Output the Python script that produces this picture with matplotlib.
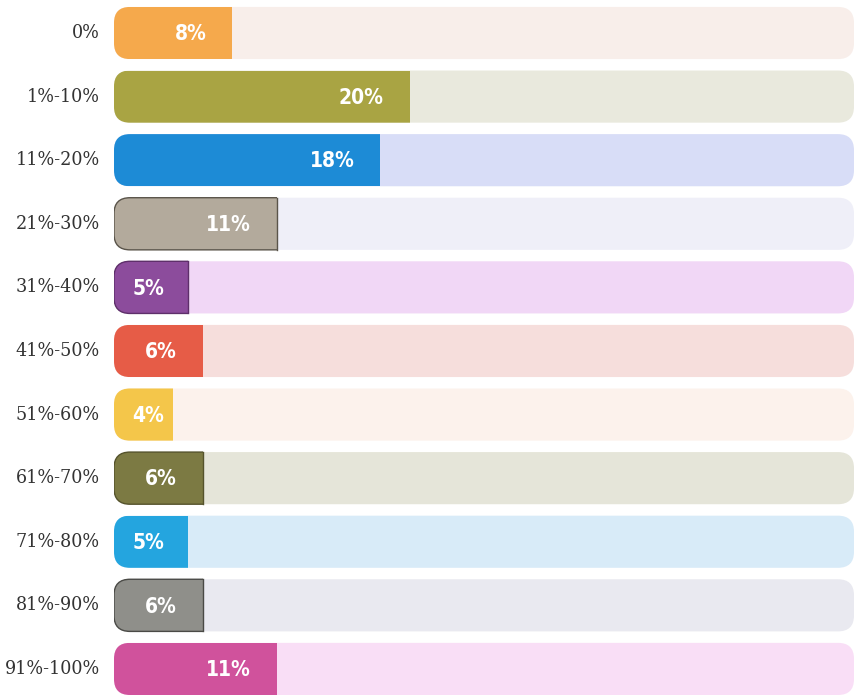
import numpy as np
import matplotlib.pyplot as plt
from matplotlib.patches import FancyBboxPatch, Rectangle

# Datos
categorias = ['0%', '1%-10%', '11%-20%', '21%-30%', '31%-40%', '41%-50%',
              '51%-60%', '61%-70%', '71%-80%', '81%-90%', '91%-100%']
valores = [8, 20, 18, 11, 5, 6, 4, 6, 5, 6, 11]
etiquetas = ['8%', '20%', '18%', '11%', '5%', '6%', '4%', '6%', '5%', '6%', '11%']

colores = ['#F5A94C', '#A9A443', '#1D8BD6', '#B3AA9C', '#8C4C9C', '#E65C47',
           '#F4C64A', '#7C7A43', '#24A5DF', '#8F8F8A', '#D0529C']
fondos = ['#F8EEEA', '#E9E9DD', '#D8DDF7', '#EFEFF8', '#F1D7F6', '#F6DEDC',
          '#FCF2EC', '#E5E5D9', '#D8EBF8', '#E9E9F0', '#F9DEF6']
bordes = [None, None, None, '#5A544A', '#5E2F6A', None,
          None, '#55532C', None, '#4A4A46', None]
total = 50

fig = plt.figure(figsize=(8.57, 6.95), dpi=100)
ax = fig.add_axes([114/857, 0, 743/857, 1])
ax.set_xlim(0, 743/14.8)
ax.set_ylim(10.41, -0.519)
ax.axis('off')

alto = 0.82
px_x = 14.8   # px por unidad x
px_y = 63.6   # px por unidad y
r = 16/px_x
asp = px_x/px_y

for i, (cat, v, et) in enumerate(zip(categorias, valores, etiquetas)):
    y0 = i - alto/2
    # barra de fondo (redondeada en ambos extremos)
    fondo = FancyBboxPatch((0, y0), total, alto,
                           boxstyle=f'round,pad=0,rounding_size={r}',
                           mutation_aspect=asp, fc=fondos[i], ec='none')
    ax.add_patch(fondo)
    # barra de color: rectangulo recortado por el fondo -> solo redondeada a la izquierda
    barra = Rectangle((0, y0), v, alto, fc=colores[i], ec='none')
    ax.add_patch(barra)
    barra.set_clip_path(fondo)
    if bordes[i]:
        contorno = FancyBboxPatch((0, y0), total, alto,
                                  boxstyle=f'round,pad=0,rounding_size={r}',
                                  mutation_aspect=asp, fc='none',
                                  ec=bordes[i], lw=1.0)
        ax.add_patch(contorno)
        caja = Rectangle((0, y0 - 0.05), v, alto + 0.1, transform=ax.transData)
        contorno.set_clip_path(caja)
        ax.plot([v, v], [y0, y0 + alto], color=bordes[i], lw=1.0)

    # etiqueta de la categoria
    ax.text(-14/px_x, i, cat, ha='right', va='center', fontsize=14,
            family='DejaVu Serif', fontstretch='condensed', color='#333333',
            clip_on=False)
    # valor
    xr = max(v*px_x - 26, 50)/px_x
    ax.text(xr, i + 0.02, et, ha='right', va='center', fontsize=15,
            family='DejaVu Sans', fontstretch='condensed', weight='bold',
            color='white')

fig.savefig('out.png', dpi=100)
